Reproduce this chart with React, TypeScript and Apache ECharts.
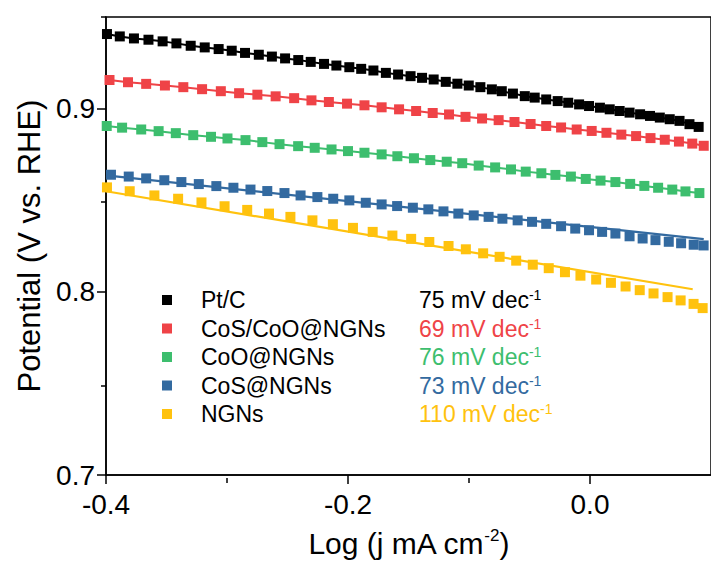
import React, { useEffect, useRef } from "react";
import * as echarts from "echarts";

const FONT = '"Liberation Sans", Arial, Helvetica, sans-serif';

const seriesNames = ["Pt/C", "CoS/CoO@NGNs", "CoO@NGNs", "CoS@NGNs", "NGNs"];
const tafelSlopes = [75, 69, 76, 73, 110];
const colors = ["#000000", "#EF4347", "#3DBE6E", "#336AA0", "#FFC20E"];

const xTickValues = [-0.4, -0.2, 0.0];
const xMinorTickValues = [-0.3, -0.1];
const yTickValues = [0.7, 0.8, 0.9];
const yMinorTickValues = [0.75, 0.85, 0.95];

// Pt/C
const ptcLogJ = [-0.3992, -0.3886, -0.3769, -0.3649, -0.3532, -0.3418, -0.33, -0.3184, -0.3069, -0.2961, -0.2851, -0.2737, -0.2629, -0.252, -0.2411, -0.2308, -0.2198, -0.2096, -0.1989, -0.1891, -0.179, -0.1687, -0.1586, -0.1483, -0.1388, -0.1292, -0.1192, -0.1096, -0.1002, -0.0906, -0.0811, -0.0729, -0.0637, -0.0539, -0.0457, -0.0362, -0.0267, -0.018, -0.009, -0.0008, 0.0082, 0.0163, 0.0245, 0.0327, 0.0414, 0.0496, 0.0577, 0.0659, 0.074, 0.0822, 0.0898];
const ptcPotential = [0.9407, 0.9394, 0.9383, 0.9376, 0.9367, 0.9356, 0.9343, 0.9334, 0.9325, 0.9316, 0.9304, 0.9294, 0.9284, 0.9274, 0.9265, 0.9255, 0.9244, 0.9235, 0.9226, 0.9217, 0.9208, 0.9195, 0.9186, 0.9177, 0.9168, 0.9159, 0.9146, 0.9136, 0.9126, 0.9117, 0.9105, 0.9095, 0.9082, 0.9068, 0.906, 0.905, 0.9041, 0.9032, 0.9023, 0.9014, 0.9005, 0.8996, 0.8987, 0.8978, 0.8969, 0.896, 0.8951, 0.8942, 0.8933, 0.8915, 0.89];

// CoS/CoO@NGNs
const cosCooLogJ = [-0.3971, -0.3818, -0.3668, -0.3513, -0.3361, -0.3206, -0.3051, -0.29, -0.2749, -0.2598, -0.2445, -0.2302, -0.2158, -0.2008, -0.1864, -0.1722, -0.1578, -0.1437, -0.13, -0.1165, -0.1029, -0.0892, -0.0755, -0.0624, -0.0491, -0.0362, -0.0239, -0.011, 0.0014, 0.0136, 0.0259, 0.0381, 0.05, 0.0618, 0.0735, 0.0845, 0.094];
const cosCooPotential = [0.9156, 0.9144, 0.9135, 0.9126, 0.9117, 0.9106, 0.9095, 0.9084, 0.9076, 0.9067, 0.9057, 0.9045, 0.9036, 0.9027, 0.9018, 0.9007, 0.8996, 0.8987, 0.8976, 0.8968, 0.8955, 0.8946, 0.8937, 0.8927, 0.8916, 0.8905, 0.8897, 0.8886, 0.8878, 0.8868, 0.8858, 0.885, 0.8839, 0.883, 0.882, 0.8809, 0.8797];

// CoO@NGNs
const cooLogJ = [-0.3994, -0.3867, -0.3709, -0.3565, -0.3423, -0.3279, -0.3132, -0.2996, -0.2847, -0.2708, -0.2566, -0.2412, -0.2275, -0.2136, -0.2, -0.1864, -0.1722, -0.1592, -0.1455, -0.132, -0.1184, -0.1056, -0.092, -0.0784, -0.0653, -0.0531, -0.0402, -0.0286, -0.0158, -0.0035, 0.0087, 0.021, 0.0332, 0.0449, 0.0563, 0.068, 0.0789, 0.0904];
const cooPotential = [0.8905, 0.8896, 0.8886, 0.8877, 0.8866, 0.8855, 0.8846, 0.8837, 0.8828, 0.8817, 0.8806, 0.8795, 0.8786, 0.8777, 0.8768, 0.8759, 0.875, 0.874, 0.8729, 0.8719, 0.871, 0.8702, 0.8689, 0.8679, 0.8668, 0.8656, 0.8647, 0.8638, 0.8629, 0.8616, 0.8607, 0.8599, 0.8589, 0.8578, 0.8568, 0.8558, 0.8548, 0.8539];

// CoS@NGNs
const cosLogJ = [-0.3959, -0.3812, -0.3668, -0.3518, -0.3377, -0.3233, -0.3088, -0.2947, -0.2806, -0.2667, -0.2525, -0.2392, -0.2253, -0.2122, -0.1989, -0.1853, -0.1722, -0.1594, -0.1464, -0.1336, -0.1211, -0.1088, -0.0961, -0.0838, -0.0724, -0.0598, -0.0479, -0.0362, -0.0239, -0.0122, -0.0008, 0.01, 0.021, 0.0327, 0.0435, 0.0541, 0.0651, 0.0753, 0.0857, 0.0939];
const cosPotential = [0.8639, 0.8629, 0.8619, 0.8609, 0.8599, 0.8588, 0.8577, 0.8568, 0.8558, 0.855, 0.8539, 0.8526, 0.8517, 0.8508, 0.8499, 0.8486, 0.8477, 0.8468, 0.8459, 0.845, 0.8439, 0.8427, 0.8417, 0.8409, 0.8399, 0.839, 0.8382, 0.8371, 0.8358, 0.8345, 0.8336, 0.8327, 0.8318, 0.8303, 0.8291, 0.8282, 0.8273, 0.8265, 0.8257, 0.8253];
const cosFitLogJ = [-0.4, 0.094];
const cosFitPotential = [0.8635, 0.8288];

// NGNs
const ngnsLogJ = [-0.3992, -0.3804, -0.36, -0.3404, -0.3211, -0.302, -0.2833, -0.2653, -0.2476, -0.2294, -0.2125, -0.1959, -0.1796, -0.1633, -0.1478, -0.1328, -0.1169, -0.1026, -0.0883, -0.0747, -0.061, -0.0473, -0.0341, -0.0207, -0.0079, 0.0051, 0.0173, 0.0294, 0.0411, 0.0525, 0.0641, 0.0749, 0.0856, 0.0931];
const ngnsPotential = [0.857, 0.8549, 0.8526, 0.8508, 0.8488, 0.8467, 0.8447, 0.8427, 0.8409, 0.839, 0.8369, 0.8349, 0.8327, 0.8307, 0.8289, 0.8272, 0.825, 0.8232, 0.821, 0.8191, 0.817, 0.8148, 0.8129, 0.8107, 0.8088, 0.8067, 0.8049, 0.8029, 0.8009, 0.7991, 0.7971, 0.7953, 0.7934, 0.7911];
const ngnsFitLogJ = [-0.4, 0.0849];
const ngnsFitPotential = [0.8549, 0.8014];

const zip = (xs: number[], ys: number[]) => xs.map((x, i) => [x, ys[i]]);

const near = (v: number, list: number[]) => list.some((t) => Math.abs(t - v) < 1e-6);

export default function App() {
  const ref = useRef<HTMLDivElement>(null);

  useEffect(() => {
    if (!ref.current) return;
    const chart = echarts.init(ref.current, null, { renderer: "svg" });

    const dataSets = [
      zip(ptcLogJ, ptcPotential),
      zip(cosCooLogJ, cosCooPotential),
      zip(cooLogJ, cooPotential),
      zip(cosLogJ, cosPotential),
      zip(ngnsLogJ, ngnsPotential),
    ];
    // series whose points are joined by a line (black, red, green)
    const joined = [true, true, true, false, false];

    const LF = 23;
    const rich: Record<string, any> = {
      g: { width: 24, fontSize: LF, lineHeight: 24, fontFamily: FONT },
      n: { width: 218, fontSize: LF, lineHeight: 24, color: "#000", fontFamily: FONT },
    };
    colors.forEach((c, i) => {
      rich["s" + i] = { fontSize: LF, lineHeight: 24, color: c, fontFamily: FONT };
      rich["u" + i] = { fontSize: 14, lineHeight: 14, color: c, verticalAlign: "top", fontFamily: FONT };
    });

    const dataSeries = seriesNames.map((name, i) => ({
      name,
      type: "line",
      xAxisIndex: 0,
      yAxisIndex: 0,
      data: dataSets[i],
      symbol: "rect",
      symbolSize: 10,
      showSymbol: true,
      showAllSymbol: true,
      itemStyle: { color: colors[i] },
      lineStyle: joined[i] ? { color: colors[i], width: 2 } : { width: 0, opacity: 0 },
      z: 2,
    }));

    const fitSeries = [
      { name: "CoS@NGNs fit", data: zip(cosFitLogJ, cosFitPotential), color: colors[3] },
      { name: "NGNs fit", data: zip(ngnsFitLogJ, ngnsFitPotential), color: colors[4] },
    ].map((f) => ({
      name: f.name,
      type: "line",
      xAxisIndex: 0,
      yAxisIndex: 0,
      data: f.data,
      symbol: "none",
      lineStyle: { color: f.color, width: 2.2 },
      z: 3,
    }));

    const tickStyle = { color: "#000", width: 1.5 };
    const gridBox = { left: 106, top: 17, width: 613, height: 461 };

    chart.setOption({
      animation: false,
      backgroundColor: "#ffffff",
      textStyle: { fontFamily: FONT },
      grid: [
        {
          ...gridBox,
          show: true,
          borderColor: "#000",
          borderWidth: 1.5,
          backgroundColor: "transparent",
        },
        { ...gridBox, show: false },
      ],
      legend: {
        orient: "vertical",
        left: 162,
        top: 288,
        padding: 0,
        itemWidth: 10,
        itemHeight: 10,
        itemGap: 5,
        icon: "rect",
        selectedMode: false,
        data: seriesNames,
        formatter: (name: string) => {
          const i = seriesNames.indexOf(name);
          return `{g| }{n|${name}}{s${i}|${tafelSlopes[i]} mV dec}{u${i}|-1}`;
        },
        textStyle: { fontFamily: FONT, fontSize: LF, rich },
      },
      xAxis: [
        {
          type: "value",
          gridIndex: 0,
          min: -0.4,
          max: 0.1,
          interval: 0.2,
          position: "bottom",
          name: "{a|Log (j mA cm}{b|-2}{a|)}",
          nameLocation: "middle",
          nameGap: 52,
          nameTextStyle: {
            rich: {
              a: { fontSize: 30, lineHeight: 32, color: "#000", fontFamily: FONT },
              b: { fontSize: 17, lineHeight: 17, color: "#000", verticalAlign: "top", fontFamily: FONT },
            },
          },
          axisLine: { show: true, onZero: false, lineStyle: tickStyle },
          axisTick: { show: true, inside: false, length: 9, customValues: xTickValues, lineStyle: tickStyle },
          axisLabel: {
            customValues: xTickValues,
            formatter: (v: number) => (near(v, xTickValues) ? v.toFixed(1) : ""),
            fontSize: 28,
            margin: 15,
            color: "#000",
            fontFamily: FONT,
          },
          splitLine: { show: false },
        },
        {
          type: "value",
          gridIndex: 1,
          min: -0.4,
          max: 0.1,
          interval: 0.1,
          position: "bottom",
          axisLine: { show: false, onZero: false },
          axisTick: { show: true, inside: false, length: 5, customValues: xMinorTickValues, lineStyle: tickStyle },
          axisLabel: { show: false },
          splitLine: { show: false },
        },
      ],
      yAxis: [
        {
          type: "value",
          gridIndex: 0,
          min: 0.7,
          max: 0.95,
          interval: 0.1,
          position: "left",
          name: "Potential (V vs. RHE)",
          nameLocation: "middle",
          nameGap: 60,
          nameTextStyle: { fontSize: 31, color: "#000", fontFamily: FONT },
          axisLine: { show: true, onZero: false, lineStyle: tickStyle },
          axisTick: { show: true, inside: false, length: 9, customValues: yTickValues, lineStyle: tickStyle },
          axisLabel: {
            customValues: yTickValues,
            formatter: (v: number) => (near(v, yTickValues) ? v.toFixed(1) : ""),
            fontSize: 28,
            margin: 11,
            color: "#000",
            fontFamily: FONT,
          },
          splitLine: { show: false },
        },
        {
          type: "value",
          gridIndex: 1,
          min: 0.7,
          max: 0.95,
          interval: 0.05,
          position: "left",
          axisLine: { show: false, onZero: false },
          axisTick: { show: true, inside: false, length: 5, customValues: yMinorTickValues, lineStyle: tickStyle },
          axisLabel: { show: false },
          splitLine: { show: false },
        },
      ],
      series: [...dataSeries, ...fitSeries],
    });

    return () => chart.dispose();
  }, []);

  return (
    <div
      ref={ref}
      style={{ position: "fixed", left: 0, top: 0, width: 711, height: 563 }}
    />
  );
}
